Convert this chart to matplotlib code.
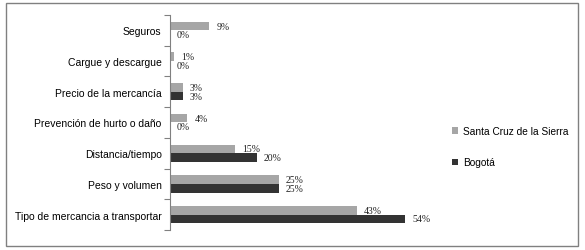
import matplotlib
matplotlib.use("Agg")
import matplotlib.pyplot as plt
from matplotlib.patches import Rectangle
import numpy as np

categories = [
    "Seguros",
    "Cargue y descargue",
    "Precio de la mercancía",
    "Prevención de hurto o daño",
    "Distancia/tiempo",
    "Peso y volumen",
    "Tipo de mercancia a transportar",
]
santa_cruz = [9, 1, 3, 4, 15, 25, 43]
bogota = [0, 0, 3, 0, 20, 25, 54]
series_names = ["Santa Cruz de la Sierra", "Bogotá"]
colors = ["#a6a6a6", "#333333"]

fig = plt.figure(figsize=(5.85, 2.51), dpi=100)
fig.add_artist(Rectangle((6 / 585, 4 / 251), 572 / 585, 243 / 251,
                         transform=fig.transFigure, fill=False,
                         edgecolor="#808080", linewidth=1.0))

ax = fig.add_axes([170 / 585, 20 / 251, 270 / 585, 215 / 251])

y = np.arange(len(categories))
h = 0.28
b1 = ax.barh(y - h / 2, santa_cruz, height=h, color=colors[0], label=series_names[0])
b2 = ax.barh(y + h / 2, bogota, height=h, color=colors[1], label=series_names[1])

for bars, vals in ((b1, santa_cruz), (b2, bogota)):
    for bar, v in zip(bars, vals):
        ax.annotate(f"{v}%", (bar.get_width(), bar.get_y() + bar.get_height() / 2),
                    xytext=(5, 0), textcoords="offset points", va="center", ha="left",
                    fontsize=7, family="Liberation Serif", color="#222222")

ax.set_xlim(0, 62)
ax.set_ylim(len(categories) - 0.5, -0.5)

ax.set_yticks(np.arange(-0.5, len(categories), 1.0))
ax.set_yticklabels([])
ax.set_yticks(y, minor=True)
ax.set_yticklabels(categories, minor=True, fontsize=7.5, family="Liberation Sans")
ax.tick_params(axis="y", which="major", length=4, color="#808080", width=0.8)
ax.tick_params(axis="y", which="minor", length=0, pad=6)

ax.set_xticks([])
for side in ("top", "right", "bottom"):
    ax.spines[side].set_visible(False)
ax.spines["left"].set_color("#808080")
ax.spines["left"].set_linewidth(0.8)

fig.legend(handles=[b1, b2], loc="upper left",
           bbox_to_anchor=(443 / 585, 1 - 118 / 251),
           frameon=False, prop={"family": "Liberation Sans", "size": 7.3},
           handlelength=0.6, handleheight=0.6, handletextpad=0.5,
           labelspacing=2.1)

fig.savefig("out.png", dpi=100)
